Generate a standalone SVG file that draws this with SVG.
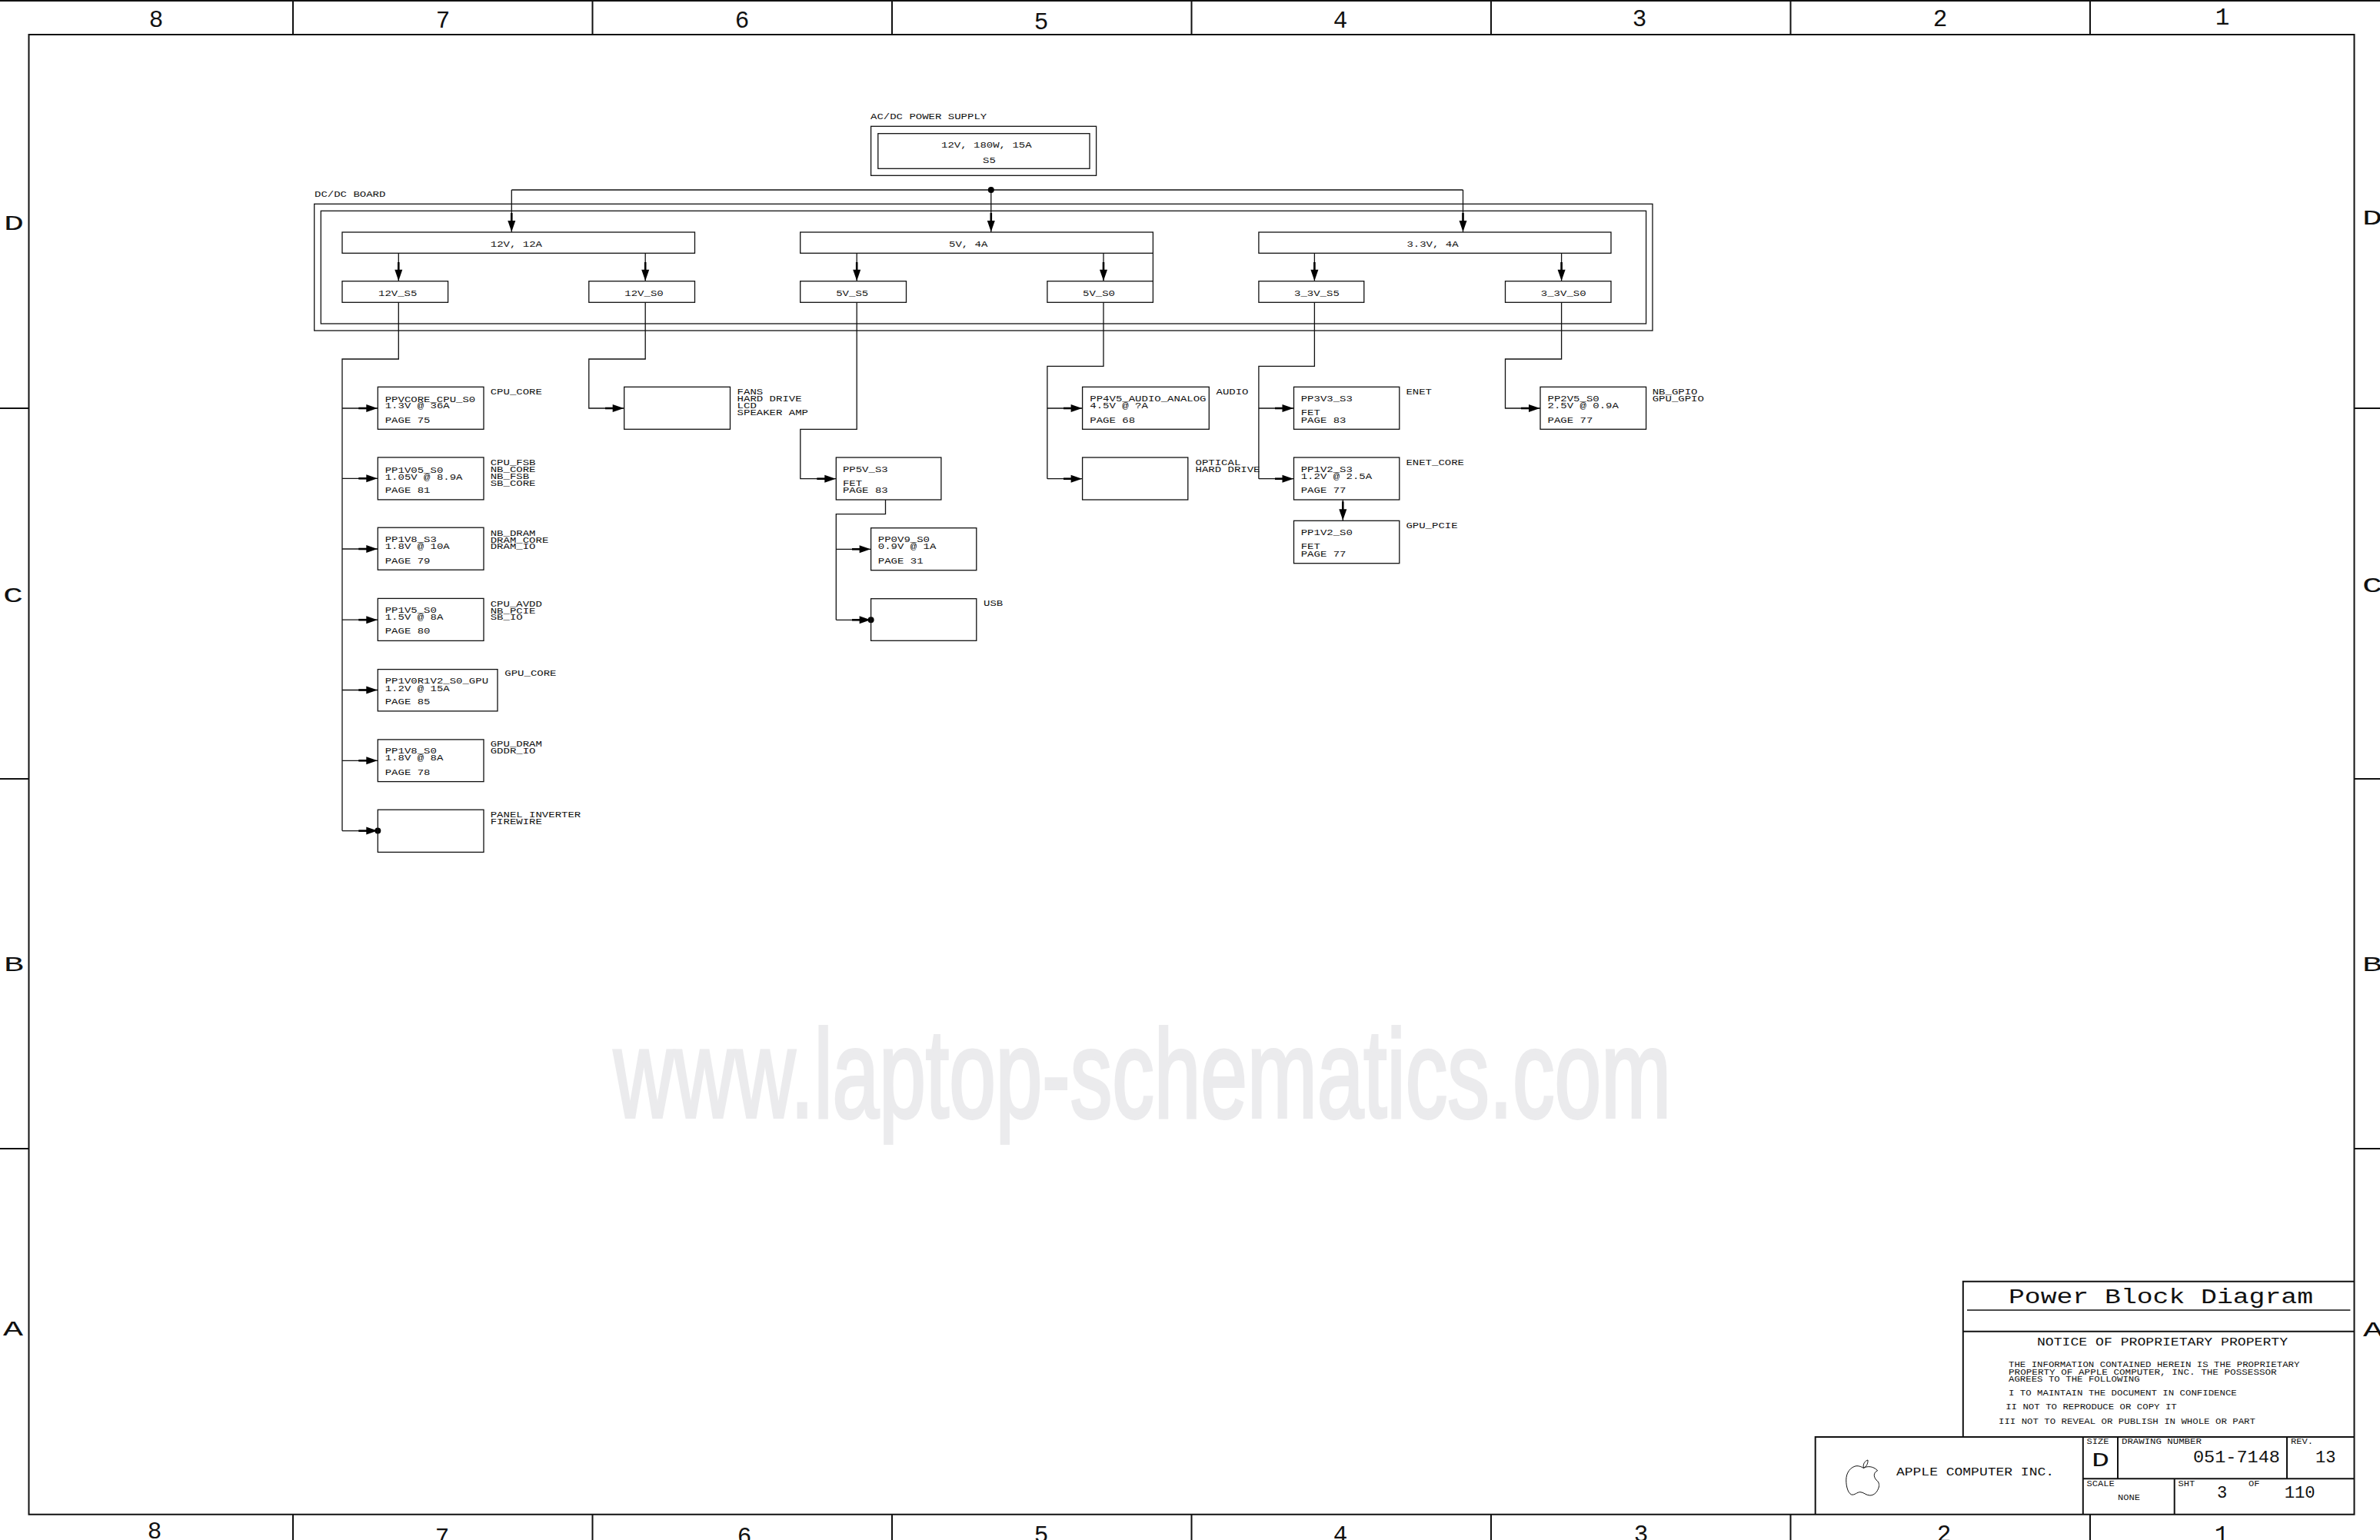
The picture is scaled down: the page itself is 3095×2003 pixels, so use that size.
<svg xmlns="http://www.w3.org/2000/svg" width="3095" height="2003" viewBox="0 0 3095 2003">
<style>
text{font-family:"Liberation Mono","Courier New",monospace;fill:#111}
.t{font-size:11.8px}
.s{font-size:10.6px}
.d{font-size:31px}
.l{font-size:28px}
.wm{font-family:"Liberation Sans",Arial,sans-serif;font-size:163px;fill:#ebebed;stroke:#ebebed;stroke-width:4}
.b{fill:none;stroke:#111;stroke-width:1.3}
.f{fill:none;stroke:#111;stroke-width:2}
.c{fill:none;stroke:#111;stroke-width:1.3}
.a{marker-end:url(#arr)}
.dot{fill:#000}
</style>
<defs>
<marker id="arr" markerUnits="userSpaceOnUse" markerWidth="25" markerHeight="11" viewBox="0 0 25 11" refX="25" refY="5.5" orient="auto">
<rect x="0" y="4.2" width="11" height="2.6" fill="#000"/>
<path d="M10 0.5L24.5 5.5L10 10.5Z" fill="#000"/>
</marker>
</defs>
<rect width="3095" height="2003" fill="#fff"/>
<text class="wm" x="798" y="1453" textLength="1375" lengthAdjust="spacingAndGlyphs">www.laptop-schematics.com</text>

<g id="frame">
<path class="f" d="M0 1H3095M37.5 45H3061.5V1969.7H37.5ZM381 0V45M770.5 0V45M1160 0V45M1549.5 0V45M1939 0V45M2328.5 0V45M2718 0V45M381 1970V2003M770.5 1970V2003M1160 1970V2003M1549.5 1970V2003M1939 1970V2003M2328.5 1970V2003M2718 1970V2003M0 531H37.5M0 1013H37.5M0 1494H37.5M3061.5 531H3095M3061.5 1013H3095M3061.5 1494H3095"/>
<text class="d" text-anchor="middle" x="203" y="35">8</text>
<text class="d" text-anchor="middle" x="576" y="36">7</text>
<text class="d" text-anchor="middle" x="965" y="36">6</text>
<text class="d" text-anchor="middle" x="1354" y="38">5</text>
<text class="d" text-anchor="middle" x="1743" y="36">4</text>
<text class="d" text-anchor="middle" x="2132" y="34">3</text>
<text class="d" text-anchor="middle" x="2523" y="34">2</text>
<text class="d" text-anchor="middle" x="2890" y="32">1</text>
<text class="d" text-anchor="middle" x="201" y="2001">8</text>
<text class="d" text-anchor="middle" x="575" y="2009">7</text>
<text class="d" text-anchor="middle" x="968" y="2008">6</text>
<text class="d" text-anchor="middle" x="1354" y="2006">5</text>
<text class="d" text-anchor="middle" x="1743" y="2006">4</text>
<text class="d" text-anchor="middle" x="2134" y="2005">3</text>
<text class="d" text-anchor="middle" x="2528" y="2005">2</text>
<text class="d" text-anchor="middle" x="2889" y="2006">1</text>
<text class="l" x="5" y="299" textLength="26" lengthAdjust="spacingAndGlyphs">D</text>
<text class="l" x="4" y="783" textLength="26" lengthAdjust="spacingAndGlyphs">C</text>
<text class="l" x="5" y="1263" textLength="26" lengthAdjust="spacingAndGlyphs">B</text>
<text class="l" x="4" y="1737" textLength="26" lengthAdjust="spacingAndGlyphs">A</text>
<text class="l" x="3072" y="292" textLength="26" lengthAdjust="spacingAndGlyphs">D</text>
<text class="l" x="3072" y="770" textLength="26" lengthAdjust="spacingAndGlyphs">C</text>
<text class="l" x="3072" y="1263" textLength="26" lengthAdjust="spacingAndGlyphs">B</text>
<text class="l" x="3073" y="1738" textLength="26" lengthAdjust="spacingAndGlyphs">A</text>
</g>

<g id="connectors">
<path class="c" d="M665.3 247H1902.5"/>
<path class="c a" d="M665.3 247V302"/>
<path class="c a" d="M1288.8 247V302"/>
<path class="c a" d="M1902.5 247V302"/>
<path class="c a" d="M518.3 329.3V365.7"/>
<path class="c a" d="M839.2 329.3V365.7"/>
<path class="c a" d="M1114.2 329.3V365.7"/>
<path class="c a" d="M1435 329.3V365.7"/>
<path class="c a" d="M1709.4 329.3V365.7"/>
<path class="c a" d="M2030.6 329.3V365.7"/>
<path class="c" d="M518.3 393.3V467H445V1080.6"/>
<path class="c a" d="M445 531H491.3"/>
<path class="c a" d="M445 622.3H491.3"/>
<path class="c a" d="M445 714H491.3"/>
<path class="c a" d="M445 806.2H491.3"/>
<path class="c a" d="M445 897.5H491.3"/>
<path class="c a" d="M445 989.3H491.3"/>
<path class="c a" d="M445 1080.6H491.3"/>
<circle class="dot" cx="491.3" cy="1080.6" r="4"/>
<path class="c a" d="M839.2 393.3V467H765.8V531H811.7"/>
<path class="c a" d="M1114.2 393.3V558.3H1040.8V622.7H1087.3"/>
<path class="c" d="M1151.5 650V668.7H1087.3V806.3"/>
<path class="c a" d="M1087.3 714.3H1132.6"/>
<path class="c a" d="M1087.3 806.3H1132.6"/>
<circle class="dot" cx="1132.6" cy="806.3" r="4"/>
<path class="c" d="M1435 393.3V476.3H1361.9V622.7"/>
<path class="c a" d="M1361.9 531H1407.6"/>
<path class="c a" d="M1361.9 622.7H1407.6"/>
<path class="c" d="M1709.4 393.3V476.3H1636.9V622.7"/>
<path class="c a" d="M1636.9 531H1682.5"/>
<path class="c a" d="M1636.9 622.7H1682.5"/>
<path class="c a" d="M1746.3 650V677.3"/>
<path class="c a" d="M2030.6 393.3V467H1957.5V531H2003"/>
<path class="c" d="M1499.4 329.3V365.7"/>
<circle class="dot" cx="1288.8" cy="247" r="4"/>
</g>

<g id="ac-dc-supply">
<text class="t" x="1132" y="155.3" textLength="151.2" lengthAdjust="spacingAndGlyphs">AC/DC POWER SUPPLY</text>
<rect class="b" x="1132.6" y="164.3" width="293" height="64"/>
<rect class="b" x="1141.8" y="173.7" width="275.2" height="45.6"/>
<text class="t" x="1224" y="192.3" textLength="117.6" lengthAdjust="spacingAndGlyphs">12V, 180W, 15A</text>
<text class="t" x="1278" y="211.7" textLength="16.8" lengthAdjust="spacingAndGlyphs">S5</text>
</g>
<g id="dc-dc-board">
<text class="t" x="409" y="256" textLength="92.4" lengthAdjust="spacingAndGlyphs">DC/DC BOARD</text>
<rect class="b" x="408.7" y="265.3" width="1740.3" height="164.7"/>
<rect class="b" x="417.3" y="274.3" width="1723.3" height="146.7"/>
</g>
<g id="rail-12v"><rect class="b" x="445" y="302" width="458.5" height="27.3"/><text class="t" x="637.8" y="321.3" textLength="67.2" lengthAdjust="spacingAndGlyphs">12V, 12A</text></g>
<g id="rail-5v"><rect class="b" x="1040.7" y="302" width="458.7" height="27.3"/><text class="t" x="1234" y="321.3" textLength="50.4" lengthAdjust="spacingAndGlyphs">5V, 4A</text></g>
<g id="rail-3v3"><rect class="b" x="1636.9" y="302" width="458.1" height="27.3"/><text class="t" x="1829.4" y="321.3" textLength="67.2" lengthAdjust="spacingAndGlyphs">3.3V, 4A</text></g>
<g id="v12-s5"><rect class="b" x="445" y="365.7" width="137.6" height="27.6"/><text class="t" x="492" y="385" textLength="50.4" lengthAdjust="spacingAndGlyphs">12V_S5</text></g>
<g id="v12-s0"><rect class="b" x="765.8" y="365.7" width="137.7" height="27.6"/><text class="t" x="812.3" y="385" textLength="50.4" lengthAdjust="spacingAndGlyphs">12V_S0</text></g>
<g id="v5-s5"><rect class="b" x="1040.7" y="365.7" width="137.8" height="27.6"/><text class="t" x="1087.2" y="385" textLength="42" lengthAdjust="spacingAndGlyphs">5V_S5</text></g>
<g id="v5-s0"><rect class="b" x="1361.9" y="365.7" width="137.5" height="27.6"/><text class="t" x="1408" y="385" textLength="42" lengthAdjust="spacingAndGlyphs">5V_S0</text></g>
<g id="v3-s5"><rect class="b" x="1636.9" y="365.7" width="136.9" height="27.6"/><text class="t" x="1683" y="385" textLength="58.8" lengthAdjust="spacingAndGlyphs">3_3V_S5</text></g>
<g id="v3-s0"><rect class="b" x="1957.5" y="365.7" width="137.5" height="27.6"/><text class="t" x="2003.8" y="385" textLength="58.8" lengthAdjust="spacingAndGlyphs">3_3V_S0</text></g>

<g id="ppvcore"><rect class="b" x="491.3" y="503.3" width="137.7" height="55"/>
<text class="t" x="500.7" y="522.8" textLength="117.6" lengthAdjust="spacingAndGlyphs">PPVCORE_CPU_S0</text><text class="t" x="500.7" y="531.3" textLength="84" lengthAdjust="spacingAndGlyphs">1.3V @ 36A</text><text class="t" x="500.7" y="550" textLength="58.8" lengthAdjust="spacingAndGlyphs">PAGE 75</text>
<text class="t" x="637.7" y="513.3" textLength="67.2" lengthAdjust="spacingAndGlyphs">CPU_CORE</text></g>
<g id="pp1v05"><rect class="b" x="491.3" y="594.9" width="137.7" height="55"/>
<text class="t" x="500.7" y="614.7" textLength="75.6" lengthAdjust="spacingAndGlyphs">PP1V05_S0</text><text class="t" x="500.7" y="623.5" textLength="100.8" lengthAdjust="spacingAndGlyphs">1.05V @ 8.9A</text><text class="t" x="500.7" y="641.2" textLength="58.8" lengthAdjust="spacingAndGlyphs">PAGE 81</text>
<text class="t" x="637.7" y="605.4" textLength="58.8" lengthAdjust="spacingAndGlyphs">CPU_FSB</text><text class="t" x="637.7" y="614.4" textLength="58.8" lengthAdjust="spacingAndGlyphs">NB_CORE</text><text class="t" x="637.7" y="623.4" textLength="50.4" lengthAdjust="spacingAndGlyphs">NB_FSB</text><text class="t" x="637.7" y="632.4" textLength="58.8" lengthAdjust="spacingAndGlyphs">SB_CORE</text></g>
<g id="pp1v8-s3"><rect class="b" x="491.3" y="686.2" width="137.7" height="55"/>
<text class="t" x="500.7" y="705.2" textLength="67.2" lengthAdjust="spacingAndGlyphs">PP1V8_S3</text><text class="t" x="500.7" y="714" textLength="84" lengthAdjust="spacingAndGlyphs">1.8V @ 10A</text><text class="t" x="500.7" y="733" textLength="58.8" lengthAdjust="spacingAndGlyphs">PAGE 79</text>
<text class="t" x="637.7" y="696.8" textLength="58.8" lengthAdjust="spacingAndGlyphs">NB_DRAM</text><text class="t" x="637.7" y="705.6" textLength="75.6" lengthAdjust="spacingAndGlyphs">DRAM_CORE</text><text class="t" x="637.7" y="714.4" textLength="58.8" lengthAdjust="spacingAndGlyphs">DRAM_IO</text></g>
<g id="pp1v5"><rect class="b" x="491.3" y="778.4" width="137.7" height="55"/>
<text class="t" x="500.7" y="797.3" textLength="67.2" lengthAdjust="spacingAndGlyphs">PP1V5_S0</text><text class="t" x="500.7" y="806.2" textLength="75.6" lengthAdjust="spacingAndGlyphs">1.5V @ 8A</text><text class="t" x="500.7" y="824.3" textLength="58.8" lengthAdjust="spacingAndGlyphs">PAGE 80</text>
<text class="t" x="637.7" y="788.5" textLength="67.2" lengthAdjust="spacingAndGlyphs">CPU_AVDD</text><text class="t" x="637.7" y="797.5" textLength="58.8" lengthAdjust="spacingAndGlyphs">NB_PCIE</text><text class="t" x="637.7" y="806.3" textLength="42" lengthAdjust="spacingAndGlyphs">SB_IO</text></g>
<g id="pp1v0r1v2"><rect class="b" x="491.3" y="870.6" width="155.7" height="54.3"/>
<text class="t" x="500.7" y="888.7" textLength="134.4" lengthAdjust="spacingAndGlyphs">PP1V0R1V2_S0_GPU</text><text class="t" x="500.7" y="898.8" textLength="84" lengthAdjust="spacingAndGlyphs">1.2V @ 15A</text><text class="t" x="500.7" y="916" textLength="58.8" lengthAdjust="spacingAndGlyphs">PAGE 85</text>
<text class="t" x="656.3" y="879.4" textLength="67.2" lengthAdjust="spacingAndGlyphs">GPU_CORE</text></g>
<g id="pp1v8-s0"><rect class="b" x="491.3" y="961.9" width="137.7" height="54.7"/>
<text class="t" x="500.7" y="980.4" textLength="67.2" lengthAdjust="spacingAndGlyphs">PP1V8_S0</text><text class="t" x="500.7" y="989.3" textLength="75.6" lengthAdjust="spacingAndGlyphs">1.8V @ 8A</text><text class="t" x="500.7" y="1007.8" textLength="58.8" lengthAdjust="spacingAndGlyphs">PAGE 78</text>
<text class="t" x="637.7" y="971.2" textLength="67.2" lengthAdjust="spacingAndGlyphs">GPU_DRAM</text><text class="t" x="637.7" y="980" textLength="58.8" lengthAdjust="spacingAndGlyphs">GDDR_IO</text></g>
<g id="panel"><rect class="b" x="491.3" y="1053.2" width="137.7" height="55.2"/>
<text class="t" x="637.7" y="1062.5" textLength="117.6" lengthAdjust="spacingAndGlyphs">PANEL INVERTER</text><text class="t" x="637.7" y="1071.5" textLength="67.2" lengthAdjust="spacingAndGlyphs">FIREWIRE</text></g>
<g id="fans"><rect class="b" x="811.7" y="503.3" width="137.8" height="55"/>
<text class="t" x="958.6" y="513.3" textLength="33.6" lengthAdjust="spacingAndGlyphs">FANS</text><text class="t" x="958.6" y="522.3" textLength="84" lengthAdjust="spacingAndGlyphs">HARD DRIVE</text><text class="t" x="958.6" y="531.3" textLength="25.2" lengthAdjust="spacingAndGlyphs">LCD</text><text class="t" x="958.6" y="540.3" textLength="92.4" lengthAdjust="spacingAndGlyphs">SPEAKER AMP</text></g>
<g id="pp5v-s3"><rect class="b" x="1087.3" y="595" width="136.6" height="55"/>
<text class="t" x="1095.9" y="614" textLength="58.8" lengthAdjust="spacingAndGlyphs">PP5V_S3</text><text class="t" x="1095.9" y="631.7" textLength="25.2" lengthAdjust="spacingAndGlyphs">FET</text><text class="t" x="1095.9" y="641" textLength="58.8" lengthAdjust="spacingAndGlyphs">PAGE 83</text></g>
<g id="pp0v9"><rect class="b" x="1132.6" y="686.7" width="137.2" height="55"/>
<text class="t" x="1141.8" y="705" textLength="67.2" lengthAdjust="spacingAndGlyphs">PP0V9_S0</text><text class="t" x="1141.8" y="714.3" textLength="75.6" lengthAdjust="spacingAndGlyphs">0.9V @ 1A</text><text class="t" x="1141.8" y="733.3" textLength="58.8" lengthAdjust="spacingAndGlyphs">PAGE 31</text></g>
<g id="usb"><rect class="b" x="1132.6" y="778.7" width="137.2" height="54.6"/>
<text class="t" x="1279" y="788.3" textLength="25.2" lengthAdjust="spacingAndGlyphs">USB</text></g>
<g id="pp4v5"><rect class="b" x="1407.6" y="503.3" width="164.7" height="55"/>
<text class="t" x="1417.3" y="522.3" textLength="151.2" lengthAdjust="spacingAndGlyphs">PP4V5_AUDIO_ANALOG</text><text class="t" x="1417.3" y="531.3" textLength="75.6" lengthAdjust="spacingAndGlyphs">4.5V @ ?A</text><text class="t" x="1417.3" y="550" textLength="58.8" lengthAdjust="spacingAndGlyphs">PAGE 68</text>
<text class="t" x="1581.5" y="513.3" textLength="42" lengthAdjust="spacingAndGlyphs">AUDIO</text></g>
<g id="optical"><rect class="b" x="1407.6" y="595" width="137.2" height="55"/>
<text class="t" x="1554.5" y="605" textLength="58.8" lengthAdjust="spacingAndGlyphs">OPTICAL</text><text class="t" x="1554.5" y="614.3" textLength="84" lengthAdjust="spacingAndGlyphs">HARD DRIVE</text></g>
<g id="pp3v3"><rect class="b" x="1682.5" y="503.3" width="137.3" height="55"/>
<text class="t" x="1691.7" y="522.3" textLength="67.2" lengthAdjust="spacingAndGlyphs">PP3V3_S3</text><text class="t" x="1691.7" y="540.3" textLength="25.2" lengthAdjust="spacingAndGlyphs">FET</text><text class="t" x="1691.7" y="550" textLength="58.8" lengthAdjust="spacingAndGlyphs">PAGE 83</text>
<text class="t" x="1828.4" y="513.3" textLength="33.6" lengthAdjust="spacingAndGlyphs">ENET</text></g>
<g id="pp1v2-s3"><rect class="b" x="1682.5" y="595" width="137.3" height="55"/>
<text class="t" x="1691.7" y="614" textLength="67.2" lengthAdjust="spacingAndGlyphs">PP1V2_S3</text><text class="t" x="1691.7" y="623.3" textLength="92.4" lengthAdjust="spacingAndGlyphs">1.2V @ 2.5A</text><text class="t" x="1691.7" y="641" textLength="58.8" lengthAdjust="spacingAndGlyphs">PAGE 77</text>
<text class="t" x="1828.4" y="605" textLength="75.6" lengthAdjust="spacingAndGlyphs">ENET_CORE</text></g>
<g id="pp1v2-s0"><rect class="b" x="1682.5" y="677.3" width="137.3" height="55.4"/>
<text class="t" x="1691.7" y="696" textLength="67.2" lengthAdjust="spacingAndGlyphs">PP1V2_S0</text><text class="t" x="1691.7" y="714.3" textLength="25.2" lengthAdjust="spacingAndGlyphs">FET</text><text class="t" x="1691.7" y="724.3" textLength="58.8" lengthAdjust="spacingAndGlyphs">PAGE 77</text>
<text class="t" x="1828.4" y="686.7" textLength="67.2" lengthAdjust="spacingAndGlyphs">GPU_PCIE</text></g>
<g id="pp2v5"><rect class="b" x="2003" y="503.3" width="137.6" height="55"/>
<text class="t" x="2012.5" y="522.3" textLength="67.2" lengthAdjust="spacingAndGlyphs">PP2V5_S0</text><text class="t" x="2012.5" y="531.3" textLength="92.4" lengthAdjust="spacingAndGlyphs">2.5V @ 0.9A</text><text class="t" x="2012.5" y="550" textLength="58.8" lengthAdjust="spacingAndGlyphs">PAGE 77</text>
<text class="t" x="2148.7" y="513.3" textLength="58.8" lengthAdjust="spacingAndGlyphs">NB_GPIO</text><text class="t" x="2148.7" y="522.3" textLength="67.2" lengthAdjust="spacingAndGlyphs">GPU_GPIO</text></g>

<g id="title-block">
<path class="f" d="M2552.8 1869V1666.7H3061.5M2552.8 1731.7H3061.5M2360.7 1969.5V1869H3061.5M2708.8 1869V1969.5M2754 1869V1923.3M2974 1869V1923.3M2708.8 1923.3H3061.5M2827.7 1923.3V1969.5"/>
<path class="b" d="M2558 1704H3056.4"/>
<text x="2612" y="1695" style="font-size:27px" textLength="396" lengthAdjust="spacingAndGlyphs">Power Block Diagram</text>
<text x="2649" y="1750" style="font-size:15px" textLength="326" lengthAdjust="spacingAndGlyphs">NOTICE OF PROPRIETARY PROPERTY</text>
<text class="s" x="2612" y="1777.7" textLength="378.4" lengthAdjust="spacingAndGlyphs">THE INFORMATION CONTAINED HEREIN IS THE PROPRIETARY</text>
<text class="s" x="2612" y="1787.7" textLength="348.7" lengthAdjust="spacingAndGlyphs">PROPERTY OF APPLE COMPUTER, INC. THE POSSESSOR</text>
<text class="s" x="2612" y="1796.7" textLength="170.7" lengthAdjust="spacingAndGlyphs">AGREES TO THE FOLLOWING</text>
<text class="s" x="2612" y="1814.7" textLength="296.8" lengthAdjust="spacingAndGlyphs">I TO MAINTAIN THE DOCUMENT IN CONFIDENCE</text>
<text class="s" x="2608.2" y="1832.7" textLength="222.6" lengthAdjust="spacingAndGlyphs">II NOT TO REPRODUCE OR COPY IT</text>
<text class="s" x="2599" y="1851.7" textLength="333.9" lengthAdjust="spacingAndGlyphs">III NOT TO REVEAL OR PUBLISH IN WHOLE OR PART</text>
<text x="2466" y="1919.3" style="font-size:15px" textLength="205" lengthAdjust="spacingAndGlyphs">APPLE COMPUTER INC.</text>
<text class="s" x="2713.6" y="1878.3" textLength="29" lengthAdjust="spacingAndGlyphs">SIZE</text>
<text class="s" x="2759" y="1878.3" textLength="103.9" lengthAdjust="spacingAndGlyphs">DRAWING NUMBER</text>
<text class="s" x="2979" y="1878.3" textLength="29" lengthAdjust="spacingAndGlyphs">REV.</text>
<text x="2720" y="1906.7" style="font-size:26px" textLength="23" lengthAdjust="spacingAndGlyphs">D</text>
<text x="2852" y="1901.7" style="font-size:22px" textLength="113" lengthAdjust="spacingAndGlyphs">051-7148</text>
<text x="3011" y="1901.7" style="font-size:22px">13</text>
<text class="s" x="2713.6" y="1933.3" textLength="36.3" lengthAdjust="spacingAndGlyphs">SCALE</text>
<text class="s" x="2754" y="1951" textLength="29" lengthAdjust="spacingAndGlyphs">NONE</text>
<text class="s" x="2832.5" y="1933.3" textLength="21.8" lengthAdjust="spacingAndGlyphs">SHT</text>
<text x="2883" y="1947.7" style="font-size:22px">3</text>
<text class="s" x="2924" y="1933.3" textLength="14.5" lengthAdjust="spacingAndGlyphs">OF</text>
<text x="2970.7" y="1947.7" style="font-size:22px" textLength="40" lengthAdjust="spacingAndGlyphs">110</text>
<path transform="translate(2395 1890) scale(.3333)" fill="none" stroke="#111" stroke-width="3" d="M85 58C100 50 122 50 140 68C125 75 122 90 135 105C145 112 147 122 145 132C140 150 128 165 110 165C95 165 85 152 72 152C60 152 50 165 38 162C22 155 15 120 18 95C22 65 45 50 60 50C70 50 80 55 85 58C82 40 92 30 102 27C103 42 95 55 85 58Z"/>
</g>
</svg>
